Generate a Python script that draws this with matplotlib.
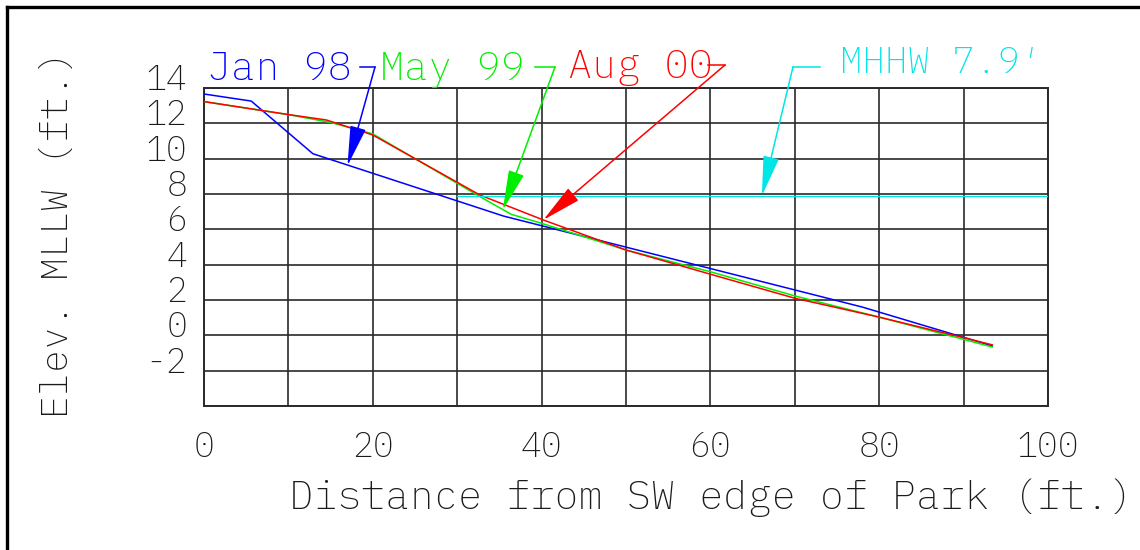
import matplotlib
matplotlib.use("Agg")
import matplotlib.pyplot as plt
from matplotlib.lines import Line2D
from matplotlib.transforms import ScaledTranslation

# ---- data ----
jan_x = [0, 5.6, 12.9, 35.5, 78, 93.4]
jan_y = [13.66, 13.26, 10.28, 6.75, 1.6, -0.6]

may_x = [0, 9.8, 15, 20, 32.7, 36.4, 40, 50, 60, 70, 80, 90, 93.4]
may_y = [13.23, 12.51, 12.05, 11.4, 7.85, 6.85, 6.34, 4.83, 3.6, 2.23, 1.03, -0.23, -0.66]

aug_x = [0, 9.8, 14.5, 20, 32.7, 40.2, 50, 60, 70, 80, 90, 93.4]
aug_y = [13.23, 12.51, 12.19, 11.34, 7.94, 6.53, 4.83, 3.46, 2.1, 1.03, -0.13, -0.54]

mhhw_x = [30, 100]
mhhw_level = 7.9

series_names = ["Jan 98", "May 99", "Aug 00"]
mhhw_label = "MHHW 7.9\u2032"

x_ticks = [0, 20, 40, 60, 80, 100]
x_tick_labels = ["0", "20", "40", "60", "80", "100"]
y_ticks = [-4, -2, 0, 2, 4, 6, 8, 10, 12, 14]
y_tick_labels = ["", "-2", "0", "2", "4", "6", "8", "10", "12", "14"]

# ---- figure ----
W, H = 1140, 550
fig = plt.figure(figsize=(W / 100, H / 100), dpi=100)
FONT = ["IBM Plex Mono", "Liberation Mono", "DejaVu Sans Mono"]
FW = 200

def fx(px):
    return px / W

def fy(py):
    return 1 - py / H

ax = fig.add_axes([fx(204), fy(406), (1048 - 204) / W, (406 - 88) / H])
ax.set_xlim(0, 100)
ax.set_ylim(-4, 14)

gcol = "#2a2a2a"
tcol = "#1a1a1a"
ax.set_xticks(x_ticks)
ax.set_xticks(range(10, 100, 20), minor=True)
ax.set_xticklabels(x_tick_labels, family=FONT, fontsize=25, weight=FW, color=tcol)
ax.set_yticks(y_ticks)
ax.set_yticklabels(y_tick_labels, family=FONT, fontsize=25, weight=FW, color=tcol)
ax.tick_params(which="both", length=0)
ax.tick_params(axis="x", pad=17)
ax.tick_params(axis="y", pad=12)
for lab in ax.get_yticklabels():
    lab.set_transform(lab.get_transform() + ScaledTranslation(0, 11.5 / 100, fig.dpi_scale_trans))
ax.grid(which="both", color=gcol, lw=1.2)
ax.set_axisbelow(True)
for s in ax.spines.values():
    s.set_color(gcol)
    s.set_linewidth(1.4)

lw = 1.1
ax.plot(jan_x, jan_y, color="#0000ff", lw=lw, zorder=3)
ax.plot(may_x, may_y, color="#00ee00", lw=lw, zorder=3)
ax.plot(aug_x, aug_y, color="#ff0000", lw=lw, zorder=3)
ax.plot(mhhw_x, [mhhw_level] * len(mhhw_x), color="#00e5e5", lw=1.0, zorder=3)

# axis labels
fig.text(fx(711), fy(498), "Distance from SW edge of Park (ft.)", family=FONT,
         weight=FW, fontsize=29, ha="center", va="center", color=tcol)
fig.text(fx(58), fy(234), "Elev. MLLW (ft.)", family=FONT, weight=FW, fontsize=27.5,
         ha="center", va="center", rotation=90, color=tcol)

# annotations with leaders
ann = [
    # text, text-left-px, baseline-px, leader start, corner x, corner y, tip data, color
    (series_names[0], 207, 80, 360, 375, 67, (17.0, 9.6), "#0000ff"),
    (series_names[1], 380, 80, 535, 555, 67, (35.4, 7.1), "#00ee00"),
    (series_names[2], 568, 78, 708, 725, 65, (40.2, 6.53), "#ff0000"),
]
for txt, tx, ty, lx, cx, cy, tip, c in ann:
    fig.text(fx(tx), fy(ty), txt, family=FONT, weight=FW, fontsize=29, ha="left",
             va="baseline", color=c)
    fig.add_artist(Line2D([fx(lx), fx(cx)], [fy(cy), fy(cy)], color=c, lw=1.1))
    ax.annotate("", xy=tip, xycoords="data", xytext=(fx(cx), fy(cy)),
                textcoords="figure fraction", annotation_clip=False,
                arrowprops=dict(arrowstyle="-|>,head_length=2.5,head_width=0.5",
                                mutation_scale=10, color=c, lw=1.1,
                                shrinkA=0, shrinkB=0))

# MHHW annotation
cc = "#00e5e5"
fig.text(fx(840), fy(73), mhhw_label, family=FONT, weight=FW, fontsize=27, ha="left",
         va="baseline", color=cc)
fig.add_artist(Line2D([fx(793), fx(820)], [fy(67), fy(67)], color=cc, lw=1.1))
ax.annotate("", xy=(66.1, mhhw_level), xycoords="data", xytext=(fx(793), fy(67)),
            textcoords="figure fraction", annotation_clip=False,
            arrowprops=dict(arrowstyle="-|>,head_length=2.5,head_width=0.5",
                            mutation_scale=10, color=cc, lw=1.1,
                            shrinkA=0, shrinkB=0))

# partial frame (top and left)
fig.add_artist(Line2D([fx(7), 1.0], [fy(7), fy(7)], color="black", lw=2.4))
fig.add_artist(Line2D([fx(7), fx(7)], [fy(7), 0.0], color="black", lw=2.4))

fig.savefig("out.png", dpi=100)
